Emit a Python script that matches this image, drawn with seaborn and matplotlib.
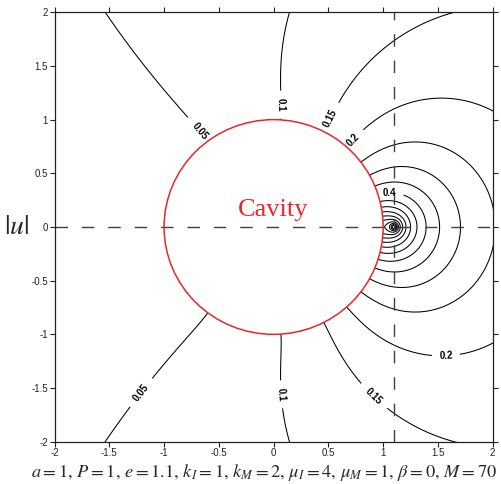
import math
import numpy as np
import matplotlib
matplotlib.use("Agg")
import matplotlib.pyplot as plt
import seaborn as sns

# Problem parameters (line load near a circular cavity, antiplane waves)
a = 1.0
P = 1.0
e = 1.1
k_I = 1.0
k_M = 2.0
mu_I = 4.0
mu_M = 1.0
beta = 0.0
M = 70

# Contour levels of |u| and the ones that carry a label
levels = [0.05, 0.1, 0.15, 0.2, 0.25, 0.3, 0.35, 0.4, 0.45, 0.5, 0.55, 0.6,
          0.65, 0.7, 0.75, 0.8, 0.85]
label_levels = [0.05, 0.1, 0.15, 0.2, 0.4]
label_spots = [(-0.67, 0.9), (-1.2, -1.55), (0.07, 1.14), (0.06, -1.56),
               (0.52, 1.01), (0.93, -1.56), (0.73, 0.81), (1.57, -1.12),
               (1.06, 0.33)]
ticks = [-2, -1.5, -1, -0.5, 0, 0.5, 1, 1.5, 2]

GAMMA = 0.5772156649015329


def besselj_all(nmax, x):
    x = np.asarray(x, float)
    h = x / 2.0
    h2 = h * h
    out = np.empty((nmax + 1,) + x.shape)
    for n in range(nmax + 1):
        t = h ** n / float(math.factorial(n))
        s = t.copy()
        for k in range(1, 80):
            t = -t * h2 / (k * (n + k))
            s = s + t
        out[n] = s
    return out


def bessely01(x, J0, J1):
    h = x / 2.0
    h2 = h * h
    t = np.ones_like(x)
    Hk = 0.0
    s = np.zeros_like(x)
    for k in range(1, 70):
        t = t * h2 / (k * k)
        Hk += 1.0 / k
        s = s + ((-1) ** (k + 1)) * Hk * t
    Y0 = (2 / np.pi) * ((np.log(h) + GAMMA) * J0 + s)
    t = h.copy()
    Hk, Hk1 = 0.0, 1.0
    s1 = np.zeros_like(x)
    for k in range(0, 70):
        s1 = s1 + ((-1) ** k) * (-2 * GAMMA + Hk + Hk1) * t
        t = t * h2 / ((k + 1) * (k + 2))
        Hk += 1.0 / (k + 1)
        Hk1 += 1.0 / (k + 2)
    Y1 = (2 / np.pi) * J1 * np.log(h) - 2 / (np.pi * x) - s1 / np.pi
    return Y0, Y1


def hankel_all(nmax, x):
    x = np.asarray(x, float)
    J = besselj_all(nmax, x)
    Y = np.empty_like(J)
    Y[0], Y[1] = bessely01(x, J[0], J[1])
    for n in range(1, nmax):
        Y[n + 1] = (2 * n / x) * Y[n] - Y[n - 1]
    return J, J + 1j * Y


def deriv(Z, x):
    D = np.empty_like(Z[:-1])
    D[0] = -Z[1]
    for n in range(1, Z.shape[0] - 1):
        D[n] = Z[n - 1] - n / x * Z[n]
    return D


def cavity_field():
    """|u| outside a traction-free cavity for a line load at (e, 0)."""
    n = np.arange(M + 1)
    xa = np.array([k_M * a])
    Jm, Hm = hankel_all(M + 1, xa)
    dJm, dHm = deriv(Jm, xa)[:, 0], deriv(Hm, xa)[:, 0]
    _, He = hankel_all(M + 1, np.array([k_M * e]))
    A = -He[:M + 1, 0] * dJm / dHm
    eps = np.where(n == 0, 1.0, 2.0)
    r = np.linspace(a, 2.9, 1100)
    th = np.linspace(-np.pi, np.pi, 2001)
    _, Hr = hankel_all(M, k_M * r)
    Us = (Hr.T * (A * eps)) @ np.cos(np.outer(n, th))
    R = np.sqrt(r[:, None] ** 2 + e ** 2 - 2 * r[:, None] * e * np.cos(th)[None, :])
    R = np.maximum(R, 1e-5)
    J01 = besselj_all(1, k_M * R)
    Y0, _ = bessely01(k_M * R, J01[0], J01[1])
    U = 1j * P / (4 * mu_M) * (J01[0] + 1j * Y0 + Us)
    X = r[:, None] * np.cos(th)[None, :]
    Y = r[:, None] * np.sin(th)[None, :]
    return X, Y, np.abs(U)


sns.set_theme(style="ticks")
plt.rcParams["font.family"] = ["Liberation Sans", "DejaVu Sans"]
plt.rcParams["axes.unicode_minus"] = False
plt.rcParams["mathtext.fontset"] = "stix"

fig = plt.figure(figsize=(5.02, 4.84), dpi=100)
ax = fig.add_axes([0.1086, 0.0874, 0.8729, 0.8872])

X, Y, Z = cavity_field()
plain_levels = [v for v in levels if v not in label_levels]
ax.contour(X, Y, Z, levels=plain_levels, colors="black", linewidths=0.75)
cs = ax.contour(X, Y, Z, levels=label_levels, colors="black", linewidths=0.75)
texts = ax.clabel(cs, manual=label_spots, inline=True, fmt="%g",
                  fontsize=7, inline_spacing=3)
for t in texts:
    t.set_fontweight("bold")

ax.add_patch(plt.Circle((0, 0), a, fill=False, color="#e8262b", lw=1.1, zorder=3))
ax.axhline(0, color="#404040", lw=1.0, dashes=(9, 10))
ax.axvline(e, color="#404040", lw=1.0, dashes=(9, 10))
ax.text(0, 0.10, "Cavity", color="#e8262b", fontsize=19, ha="center",
        va="baseline", family=["Liberation Serif", "DejaVu Serif"])

ax.set_xlim(-2, 2)
ax.set_ylim(-2, 2)
ax.set_xticks(ticks)
ax.set_yticks(ticks)
ax.set_xticklabels([f"{v:g}" for v in ticks])
ax.set_yticklabels([f"{v:g}" for v in ticks])
ax.tick_params(direction="out", length=3.5, width=0.8, labelsize=7,
               colors="#222222", pad=1.2, top=True, right=True)
for s in ax.spines.values():
    s.set_linewidth(0.9)
    s.set_color("#222222")

fig.text(0.033, 0.531, r"$|u|$", fontsize=20, ha="center", va="center")
title = (rf"$a={a:g},\,P={P:g},\,e={e:g},\,k_I={k_I:g},\,k_M={k_M:g},\,"
         rf"\mu_I={mu_I:g},\,\mu_M={mu_M:g},\,\beta={beta:g},\,M={M}$")
fig.text(0.526, 0.014, title, fontsize=13.2, ha="center", va="baseline")

fig.savefig("out.png", dpi=100)
